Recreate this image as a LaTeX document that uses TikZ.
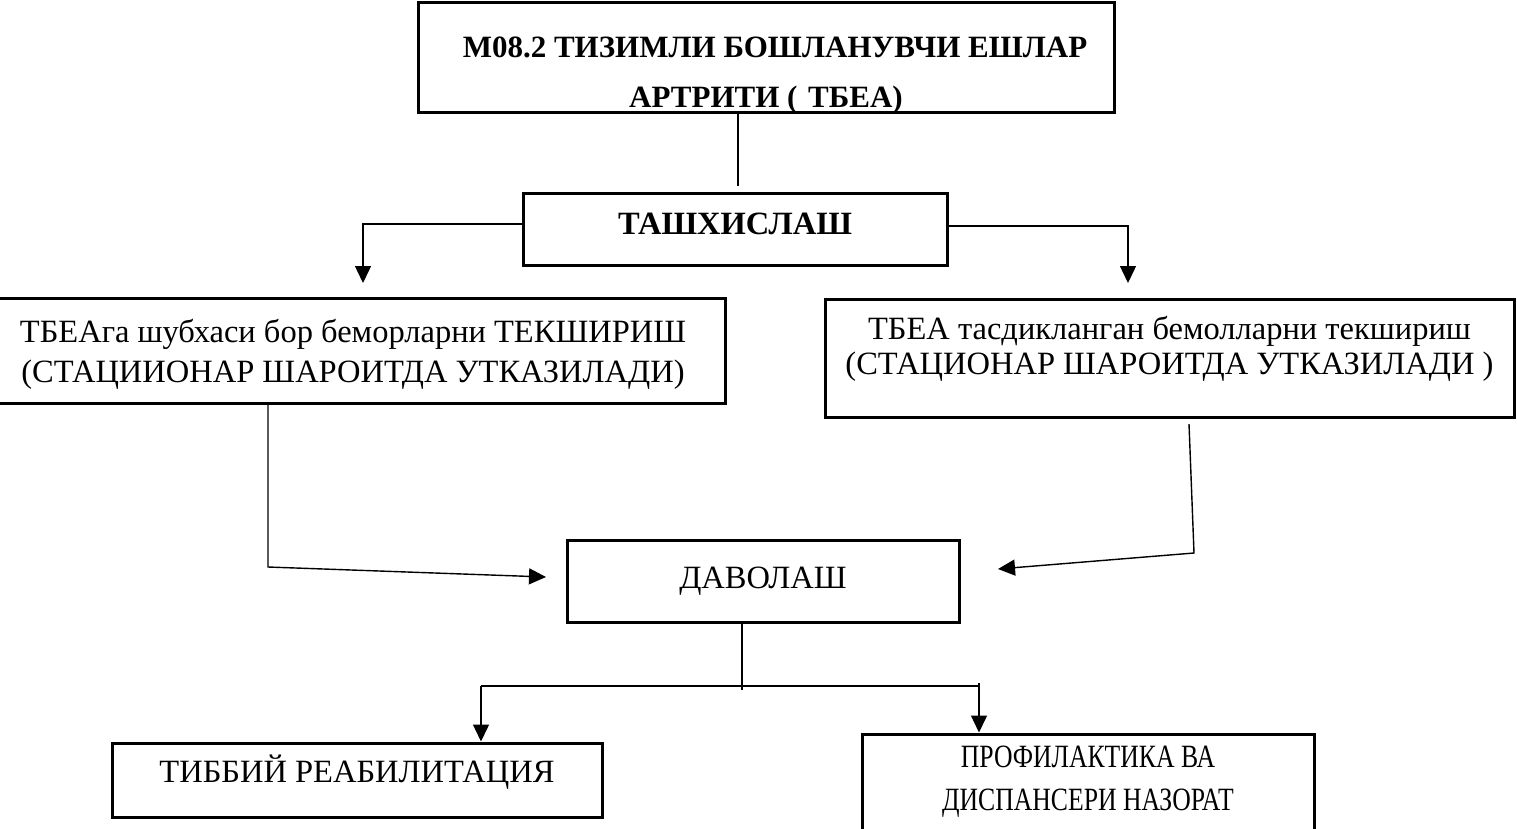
\documentclass[tikz,border=0pt]{standalone}
\usepackage{fontspec}
\usepackage{graphicx}
\setmainfont{Liberation Serif}
\usetikzlibrary{arrows.meta}
\tikzset{
boxnodev1/.style={rectangle, draw=black!100, fill=none, line width=3pt, inner sep=0pt, align=center, font=\fontsize{32.5pt}{40pt}\selectfont},
linev1/.style={draw=black!100, line width=1.4pt},
arrowv1/.style={draw=black!100, line width=1.4pt, -{Triangle[width=16pt,length=17pt]}},
}
\begin{document}
\begin{tikzpicture}[x=1pt,y=-1pt]
        \useasboundingbox (0,0) rectangle (1517,828);
        \node[boxnodev1, minimum width=696pt, minimum height=110pt, text height=101pt, text depth=0pt, font=\bfseries\fontsize{31pt}{50pt}\selectfont] at (766,57) (title) {\hspace*{18pt}М08.2 ТИЗИМЛИ БОШЛАНУВЧИ ЕШЛАР\\АРТРИТИ (\hspace{3pt} ТБЕА)};
        \node[boxnodev1, minimum width=424pt, minimum height=72pt, text height=11pt, text depth=0pt, font=\bfseries\fontsize{32.5pt}{40pt}\selectfont] at (735,229) (diag) {ТАШХИСЛАШ};
        \node[boxnodev1, minimum width=744pt, minimum height=105pt, text height=64pt, text depth=0pt] at (353,350.5) (suspect) {ТБЕАга шубхаси бор беморларни ТЕКШИРИШ\\(СТАЦИИОНАР ШАРОИТДА УТКАЗИЛАДИ)};
        \node[boxnodev1, minimum width=689pt, minimum height=118pt, text height=33pt, text depth=0pt, font=\fontsize{32.5pt}{35pt}\selectfont] at (1169.5,358) (confirmed) {ТБЕА тасдикланган бемолларни текшириш\\(СТАЦИОНАР ШАРОИТДА УТКАЗИЛАДИ )};
        \node[boxnodev1, minimum width=392pt, minimum height=82pt, text height=15pt, text depth=0pt] at (763,581) (treat) {ДАВОЛАШ};
        \node[boxnodev1, minimum width=490pt, minimum height=74pt, text height=5pt, text depth=0pt] at (357,780) (rehab) {ТИББИЙ РЕАБИЛИТАЦИЯ};
        \node[boxnodev1, minimum width=452pt, minimum height=106pt, text height=47pt, text depth=0pt, font=\fontsize{32.5pt}{43pt}\selectfont] at (1088,787) (prevent) {\scalebox{0.79}[1]{ПРОФИЛАКТИКА ВА}\\\scalebox{0.79}[1]{ДИСПАНСЕРИ НАЗОРАТ}};
        \coordinate (t1) at (738,186);
        \coordinate (a1) at (363,224);
        \coordinate (a2) at (363,283);
        \coordinate (b1) at (1128,226);
        \coordinate (b2) at (1128,283);
        \coordinate (c1) at (268,567);
        \coordinate (c2) at (546,577);
        \coordinate (d0) at (1189,424);
        \coordinate (d1) at (1194,553);
        \coordinate (d2) at (998,569);
        \coordinate (e0) at (742,690);
        \coordinate (f1) at (481,686);
        \coordinate (f2) at (979,686);
        \coordinate (f3) at (979,683);
        \draw[linev1] (title.south -| t1) -- (t1);
        \draw[arrowv1] (diag.west |- a1) -- (a1) -- (a2);
        \draw[arrowv1] (diag.east |- b1) -- (b1) -- (b2);
        \draw[arrowv1] (suspect.south -| c1) -- (c1) -- (c2);
        \draw[arrowv1] (d0) -- (d1) -- (d2);
        \draw[linev1] (treat.south -| e0) -- (e0);
        \draw[linev1] (f1) -- (f2);
        \draw[arrowv1] (f1) -- (rehab.north -| f1);
        \draw[arrowv1] (f3) -- (prevent.north -| f3);
    \end{tikzpicture}
\end{document}
